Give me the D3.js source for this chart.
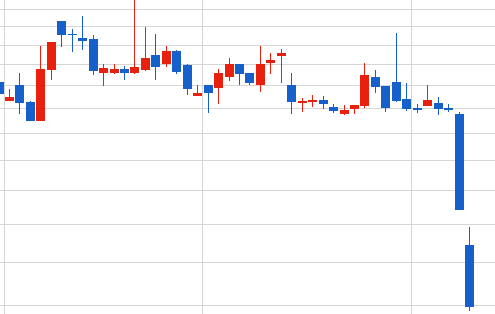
<!DOCTYPE html>
<html>
<head>
<meta charset="utf-8">
<script src="https://cdn.jsdelivr.net/npm/d3@7"></script>
<style>
  html, body { margin: 0; padding: 0; background: #fff; }
  svg { display: block; }
</style>
</head>
<body>
<div id="chart"></div>
<script>
// daily sessions, oldest first
const opens  = [13.17, 12.33, 13.03, 12.27, 11.49, 13.75, 16.31, 15.58, 15.37, 15.32,
                13.60, 13.60, 13.78, 13.60, 13.75, 14.48, 14.04, 14.68, 13.98, 12.55,
                13.03, 12.90, 13.41, 14.03, 13.59, 13.00, 14.09, 14.44, 13.03, 12.24,
                12.28, 12.37, 12.06, 11.74, 11.98, 12.10, 13.40, 12.98, 13.17, 12.40,
                12.01, 12.10, 12.23, 12.02, 11.76, 7.42];
const highs  = [13.19, 12.85, 13.59, 12.31, 14.94, 15.16, 16.32, 15.86, 16.61, 15.53,
                14.03, 14.03, 13.93, 18.00, 15.98, 15.59, 14.94, 14.73, 14.03, 13.03,
                13.03, 13.78, 14.33, 14.03, 13.59, 14.94, 14.58, 14.79, 13.59, 12.45,
                12.58, 12.53, 12.19, 12.14, 12.14, 14.08, 13.73, 12.98, 15.64, 13.12,
                12.19, 13.03, 12.49, 12.17, 11.85, 7.91];
const lows   = [12.58, 12.31, 11.78, 11.48, 11.48, 13.26, 14.91, 14.63, 14.73, 13.49,
                12.98, 13.54, 13.26, 13.54, 13.69, 13.26, 13.89, 13.56, 12.59, 12.54,
                11.82, 12.16, 13.23, 13.00, 13.04, 12.72, 13.56, 13.13, 11.74, 11.86,
                12.07, 11.98, 11.82, 11.70, 11.78, 12.03, 12.68, 11.86, 12.28, 11.90,
                11.82, 12.10, 11.70, 11.84, 8.40, 5.89];
const closes = [12.62, 12.49, 12.24, 11.49, 13.78, 15.15, 15.55, 15.55, 15.21, 13.70,
                13.83, 13.78, 13.60, 13.88, 14.33, 13.89, 14.68, 13.65, 12.86, 12.67,
                12.68, 13.59, 14.03, 13.56, 13.13, 14.03, 14.22, 14.58, 12.28, 12.31,
                12.37, 12.20, 11.90, 11.93, 12.14, 13.49, 12.95, 12.01, 12.30, 11.97,
                11.94, 12.36, 11.98, 11.94, 8.40, 5.97];

// first session of each month (vertical grid)
const monthStarts = [1, 20, 40];
// horizontal grid values
const priceTicks = [6, 7, 8, 9, 10, 11, 12, 13, 14, 15, 16, 17];

const width = 495;
const height = 314;

const upColor = "#e8200e";
const downColor = "#1560cb";
const gridColor = "#d5d5d5";

const data = opens.map((o, i) => ({
  i: i,
  open: o,
  high: highs[i],
  low: lows[i],
  close: closes[i]
}));

const svg = d3
  .select("#chart")
  .append("svg")
  .attr("width", width)
  .attr("height", height);

const x = d3.scaleLinear()
  .domain([0.09, 47.44])
  .range([0, width]);

const y = d3.scaleLog()
  .domain([5.82, 17.56])
  .range([height, 0]);

const bodyWidth = 9;

// grid
svg.append("g")
  .selectAll("line")
  .data(priceTicks)
  .join("line")
  .attr("x1", 0)
  .attr("x2", width)
  .attr("y1", d => Math.round(y(d)) + 0.5)
  .attr("y2", d => Math.round(y(d)) + 0.5)
  .attr("stroke", gridColor)
  .attr("stroke-width", 1);

svg.append("g")
  .selectAll("line")
  .data(monthStarts)
  .join("line")
  .attr("x1", d => Math.floor(x(d - 0.5)) + 0.5)
  .attr("x2", d => Math.floor(x(d - 0.5)) + 0.5)
  .attr("y1", 0)
  .attr("y2", height)
  .attr("stroke", gridColor)
  .attr("stroke-width", 1);

// candles
const candles = svg.append("g")
  .selectAll("g")
  .data(data)
  .join("g");

const left = d => Math.round(x(d.i) - bodyWidth / 2);
const fill = d => d.close >= d.open ? upColor : downColor;

candles.append("rect")
  .attr("x", d => left(d) + 4)
  .attr("width", 1)
  .attr("y", d => Math.round(y(d.high)))
  .attr("height", d => Math.max(1, Math.round(y(d.low)) - Math.round(y(d.high))))
  .attr("fill", fill);

candles.append("rect")
  .attr("x", left)
  .attr("width", bodyWidth)
  .attr("y", d => Math.round(y(Math.max(d.open, d.close))))
  .attr("height", d => Math.max(1,
    Math.round(y(Math.min(d.open, d.close))) - Math.round(y(Math.max(d.open, d.close)))))
  .attr("fill", fill);
</script>
</body>
</html>
